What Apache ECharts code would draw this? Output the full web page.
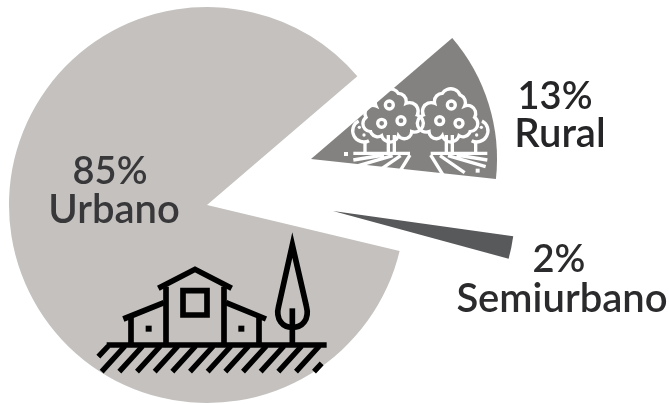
<!DOCTYPE html>
<html>
<head>
<meta charset="utf-8">
<style>html,body{margin:0;padding:0;background:#fff}#c{width:669px;height:404px}</style>
<script src="https://cdn.jsdelivr.net/npm/echarts@6/dist/echarts.min.js"></script>
</head>
<body>
<div id="c"></div>
<script>
// Population share by type of locality, in percent.
const names = ['Urbano', 'Rural', 'Semiurbano'];
const shares = [85, 13, 2];
const colors = ['#c4c1bf', '#838280', '#58595b'];
const TOTAL = 100;

// Each wedge is pulled apart on its own: apex, radius and opening angle.
const wedges = [
  { center: [207, 205], radius: 198, startAngle: -13.4 },
  { center: [311, 159], radius: 186, startAngle: 40.6 },
  { center: [333, 211], radius: 182, startAngle: -8 }
];
const captions = [
  { pctX: 110, x: 114, y: 172, y2: 210, fill: '#38383a' },
  { pctX: 555, x: 560, y: 97, y2: 134, fill: '#252426' },
  { pctX: 559, x: 562, y: 260, y2: 299, fill: '#2b2a2c' }
];

const series = shares.map((v, i) => ({
  type: 'pie',
  center: wedges[i].center,
  radius: [0, wedges[i].radius],
  startAngle: wedges[i].startAngle,
  silent: true,
  animation: false,
  label: { show: false },
  labelLine: { show: false },
  emphasis: { disabled: true },
  data: [
    { name: names[i], value: v, itemStyle: { color: colors[i] } },
    { name: 'resto', value: TOTAL - v, itemStyle: { color: 'transparent' } }
  ]
}));

// SVG path strings become named graphic shapes.
let shapeCount = 0;
function svgPath(d, style) {
  const type = 'icon' + shapeCount++;
  echarts.graphic.registerShape(type, echarts.graphic.extendPath(d));
  return { type, z: 10, shape: {}, style };
}

// Farmhouse with cypress on hatched ground, drawn on a 3:1 grid.
let hatch = 'M85,378 L55,410 ';
for (let k = 0; k < 12; k++) {
  const b = 65 + 53 * k;
  hatch += `M${b + 70},378 L${b},455 `;
}
hatch += 'M725,430 L702,455';
const housePaths = [
  hatch,
  'M80,375 H740',
  'M235,205 L345,148 L455,205',
  'M258,200 V375 M432,200 V375',
  'M309,212 H381 V285 H309 Z',
  'M130,297 L252,248 M153,292 V375',
  'M438,248 L558,297 M537,292 V375',
  'M637,75 L596,258 C585,300 610,322 637,322 C665,322 690,300 679,258 Z',
  'M637,265 V375'
];
const houseDots = [[197, 317], [475, 317]];
const house = {
  type: 'group', x: 80, y: 220, scaleX: 1 / 3, scaleY: 1 / 3, silent: true,
  children: housePaths.map(d => svgPath(d, {
    fill: null, stroke: '#000', lineWidth: d === hatch ? 16 : 17, lineJoin: 'miter'
  })).concat(houseDots.map(p => ({
    type: 'rect', z: 10,
    shape: { x: p[0], y: p[1], width: 18, height: 18 },
    style: { fill: '#000' }
  })))
};

// Orchard tree pair: one tree is the mirror of the other.
const crown = 'M245,347 A22,22 0 0 1 212,335 A24,24 0 0 1 198,292 A24,24 0 0 1 228,258 ' +
  'A24,24 0 0 1 242,225 A30,30 0 0 1 295,220 A24,24 0 0 1 318,250 A26,26 0 0 1 352,285 ' +
  'A24,24 0 0 1 335,335 A22,22 0 0 1 295,347 A26,26 0 0 1 245,347 Z';
const treeLines = [
  crown,
  'M265,345 V398 M283,345 V398',
  'M160,400 H330',
  'M207,362 A31,31 0 1 1 176,303',
  'M195,365 V398',
  'M160,420 L252,405 M165,440 L278,407 M228,458 L302,407 M292,466 L330,405'
];
const fruits = [[268, 255], [245, 310], [303, 302]];
const seeds = [[178, 322], [192, 345]];
const TREE_STROKE = 10;
const treeShapes = treeLines.map(d => svgPath(d, { fill: null, stroke: '#fff', lineWidth: TREE_STROKE }));
const tree = ox => ({
  type: 'group', x: ox, scaleX: ox ? -1 : 1,
  children: treeShapes.map(s => ({ type: s.type, z: 10, shape: {}, style: s.style })).concat(fruits.map(p => ({
    type: 'circle', z: 10, shape: { cx: p[0], cy: p[1], r: 12 },
    style: { fill: null, stroke: '#fff', lineWidth: TREE_STROKE }
  }))).concat(seeds.map(p => ({
    type: 'circle', z: 10, shape: { cx: p[0], cy: p[1], r: 5 },
    style: { fill: '#fff' }
  })))
});
const orchard = {
  type: 'group', x: 300, y: 20, scaleX: 1 / 3, scaleY: 1 / 3, silent: true,
  children: [
    tree(0), tree(722),
    { type: 'rect', z: 10, shape: { x: 132, y: 396, width: 12, height: 12 }, style: { fill: '#fff' } },
    { type: 'rect', z: 10, shape: { x: 527, y: 446, width: 12, height: 12 }, style: { fill: '#fff' } }
  ]
};

const NAME_SIZE = 40;
const PCT_SIZE = 38;
const captionText = shares.flatMap((v, i) => [
  [v + '%', captions[i].pctX, captions[i].y, PCT_SIZE],
  [names[i], captions[i].x, captions[i].y2, NAME_SIZE]
].map(([t, x, y, size]) => ({
  type: 'text', z: 10, x, y, silent: true,
  style: {
    text: t, fill: captions[i].fill, align: 'center', verticalAlign: 'middle',
    fontFamily: 'Lato', fontWeight: 600, fontSize: size
  }
})));

echarts.init(document.getElementById('c'), null, { renderer: 'canvas' }).setOption({
  backgroundColor: '#fff',
  animation: false,
  series,
  graphic: { z: 10, elements: [house, orchard].concat(captionText) }
});
</script>
</body>
</html>
